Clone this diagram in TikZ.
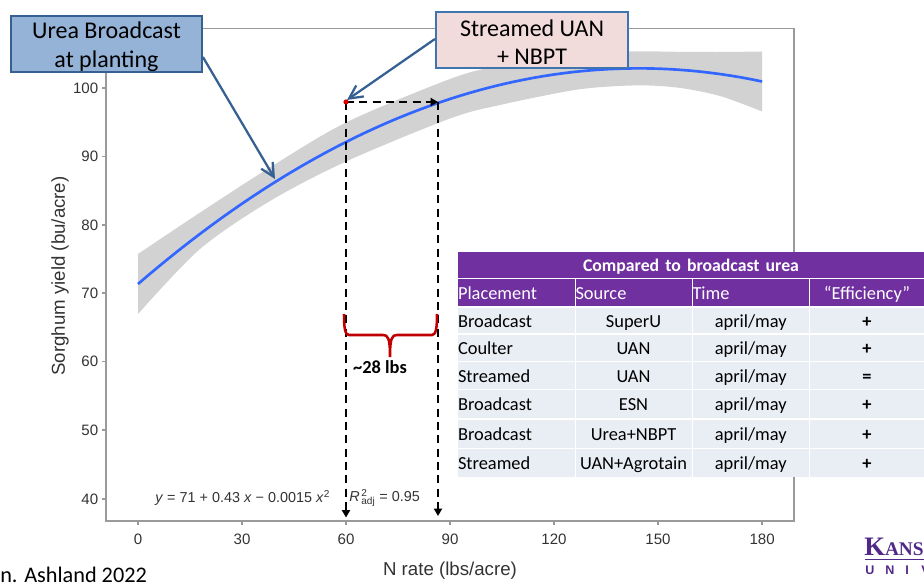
\documentclass[tikz,border=0pt]{standalone}
\usepackage{fontspec}
\setmainfont{Carlito}
\newfontfamily\arialf{Liberation Sans}
\newfontfamily\timesf{Liberation Serif}
\usetikzlibrary{arrows.meta}
\definecolor{axisgray}{HTML}{9A9A9A}
\definecolor{tickgray}{HTML}{333333}
\definecolor{ribbon}{HTML}{D2D2D2}
\definecolor{curveblue}{HTML}{3366FF}
\definecolor{ureafill}{HTML}{95B3D7}
\definecolor{streamfill}{HTML}{F2DCDB}
\definecolor{calloutedge}{HTML}{366092}
\definecolor{streamedge}{HTML}{3F74AE}
\definecolor{tpurple}{HTML}{7030A0}
\definecolor{trow}{HTML}{E9EDF4}
\definecolor{bracered}{HTML}{C00000}
\definecolor{ksu}{HTML}{512888}
\tikzset{
  ticklabel/.style={font=\arialf\fontsize{11.3}{13}\selectfont,text=tickgray,inner sep=0pt},
  axistitle/.style={font=\arialf\fontsize{14}{16}\selectfont,text=tickgray,inner sep=0pt},
  eqlabel/.style={font=\arialf\fontsize{10.8}{13}\selectfont,text=tickgray,inner sep=0pt},
  callout/.style={draw,line width=1.6pt,font=\fontsize{18}{22}\selectfont,align=center,inner sep=0pt,text=black},
  pointer/.style={draw=calloutedge,line width=1.7pt,-{Straight Barb[length=10pt,width=10pt,line width=1.7pt]}},
  dashline/.style={black,line width=1.3pt,dash pattern=on 6pt off 4pt,-{Triangle[length=5.5pt,width=6pt]}},
  cell/.style={fill=trow,inner sep=0pt,text=black,font=\fontsize{13.8}{16}\selectfont,text height=11.2pt,text depth=1pt},
  hcell/.style={cell,fill=tpurple,text=white},
}
\newcommand{\tcell}[8]{% style,name,x1,y1,x2,y2,align,text
  \pgfmathsetlengthmacro{\cw}{(#5-#3)*0.75pt}
  \pgfmathsetlengthmacro{\ch}{(#6-#4)*0.75pt}
  \node[#1,text width=\cw,minimum height=\ch,align=#7] (#2) at ({(#3+#5)/2},{(#4+#6)/2}) {#8};
}
\newcommand{\upstrut}{\rule{0pt}{17pt}}
\begin{document}
\begin{tikzpicture}[x=0.75pt,y=-0.75pt]
\useasboundingbox (0,0) rectangle (924,584);
% panel
\draw[axisgray,line width=0.9pt] (106,521) -- (794,521) -- (794,28.5) -- (106,28.5);
\draw[axisgray,line width=1.3pt] (106,28.5) -- (106,521) -- (794,521);
% ticks and labels
\foreach \v/\py in {100/88,90/156.5,80/225,70/293,60/361.5,50/430,40/499}{
  \draw[axisgray,line width=0.9pt] (102,\py) -- (106,\py);
  \node[ticklabel,anchor=east] (yl\v) at (98.5,\py) {\v};
}
\foreach \v in {0,30,60,90,120,150,180}{
  \pgfmathsetmacro{\px}{138+3.467*\v}
  \draw[axisgray,line width=0.9pt] (\px,521) -- (\px,525);
  \node[ticklabel] (xl\v) at (\px,539) {\v};
}
\node[axistitle,rotate=90] (ytitle) at (60,276) {Sorghum yield (bu/acre)};
\node[axistitle] (xtitle) at (450,571) {N rate (lbs/acre)};
% ribbon and fit
\fill[ribbon] plot[smooth,tension=0.5] coordinates {(138,254) (200,212.6) (270,167.4) (346,122.5) (450,79) (500,65.5) (578,53.5) (637,51.4) (679,51.8) (720,52) (762,51.5)}
  -- plot[smooth,tension=0.5] coordinates {(762,111.4) (720,96) (679,87.8) (637,85.4) (578,89.5) (500,105) (450,118.5) (346,161.5) (270,201) (200,249) (138,314)} -- cycle;
\draw[curveblue,line width=2pt] plot[domain=0:180,samples=61] ({138+3.467*\x},{284-2.9875*\x+1.0347*(\x/10)*(\x/10)});
% equation
\node[eqlabel,anchor=west] (eq) at (155,498) {\textit{y} = 71 + 0.43 \textit{x} − 0.0015 \textit{x}\textsuperscript{2}};
\node[eqlabel,anchor=west] (r2) at (349,498) {\textit{R}\rlap{\textsuperscript{\,2}}\textsubscript{\,adj} = 0.95};
% dashed guides
\coordinate (dot) at (346,102);
\coordinate (hend) at (438,102);
\coordinate (b1) at (346,517.5);
\coordinate (b2) at (438,516);
\draw[dashline] (dot) -- (hend);
\draw[dashline] (dot) -- (b1);
\draw[dashline] (hend) -- (b2);
\fill[red!85!black] (dot) circle (2.6);
% brace
\draw[bracered,line width=1.9pt] (344,314) .. controls (344,328) and (345,335) .. (349,335) -- (383,335)
  .. controls (388,335) and (390,338) .. (390,357)
  .. controls (390,338) and (392,335) .. (397,335) -- (432,335)
  .. controls (436,335) and (437,328) .. (437,314);
\node[font=\bfseries\fontsize{13.8}{16}\selectfont,inner sep=0pt] (lbs) at (380,367) {\textasciitilde28 lbs};
% callouts
\node[callout,draw=calloutedge,fill=ureafill,minimum width=143pt,minimum height=42.5pt] (urea) at (106.5,44) {\upstrut Urea Broadcast\\at planting};
\node[callout,draw=streamedge,fill=streamfill,minimum width=144pt,minimum height=42.5pt] (stream) at (532,40) {\rule{0pt}{15.5pt}Streamed UAN\\[-1pt]+ NBPT};
\coordinate (ureatip) at (275,179);
\coordinate (streamtip) at (347,100);
\draw[pointer] (urea.east |- 0,57) -- (ureatip);
\draw[pointer] (stream.west |- 0,39) -- (streamtip);
% table
\fill[white] (458,252) rectangle (924,477);
\tcell{hcell}{title}{458}{252}{924}{278}{center}{\fontsize{13.3}{16}\selectfont\textbf{Compared to broadcast urea}}
\tcell{hcell}{h1}{458}{279}{574.5}{306}{left}{Placement}
\tcell{hcell}{h2}{575.5}{279}{691.5}{306}{left}{Source}
\tcell{hcell}{h3}{692.5}{279}{809}{306}{left}{Time}
\tcell{hcell}{h4}{810}{279}{924}{306}{center}{“Efficiency”}
\foreach \r/\ya/\yb/\p/\s/\e in {1/308/333/Broadcast/SuperU/+,2/335/361/Coulter/UAN/+,3/362/389/Streamed/UAN/=,4/390/418/Broadcast/ESN/+,5/420/448/Broadcast/Urea+NBPT/+,6/449/477/Streamed/UAN+Agrotain/+}{
  \tcell{cell}{c\r p}{458}{\ya}{574.5}{\yb}{left}{\p}
  \tcell{cell}{c\r s}{575.5}{\ya}{691.5}{\yb}{center}{\s}
  \tcell{cell}{c\r t}{692.5}{\ya}{809}{\yb}{center}{april/may}
  \tcell{cell}{c\r e}{810}{\ya}{924}{\yb}{center}{\textbf{\e}}
}
% source note and logo
\node[font=\fontsize{16.7}{18}\selectfont,inner sep=0pt,anchor=base west] (note) at (0,582) {n. Ashland 2022};
\node[font=\timesf\bfseries\fontsize{20}{22}\selectfont,text=ksu,inner sep=0pt,anchor=base west] (kans) at (864,555) {K\fontsize{14.5}{22}\selectfont ANS};
\draw[ksu,line width=0.5pt] (865,559.5) -- (924,559.5);
\node[font=\arialf\bfseries\fontsize{9.4}{11}\selectfont,text=ksu,inner sep=0pt,anchor=base west] (univ) at (865,574) {\makebox[15pt][l]{U}\makebox[15pt][l]{N}\makebox[12pt][l]{I}V};
\end{tikzpicture}
\end{document}
